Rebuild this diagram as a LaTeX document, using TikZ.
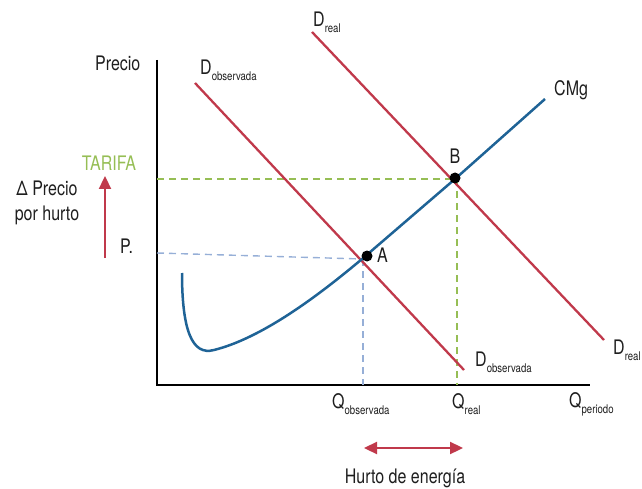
\documentclass[tikz,border=0pt]{standalone}
\usepackage{fontspec}
\setmainfont{TeX Gyre Heros}[FakeStretch=0.8]
\usetikzlibrary{arrows.meta}
\definecolor{dred}{RGB}{192,57,75}
\definecolor{cblue}{RGB}{31,99,150}
\definecolor{lblue}{RGB}{150,175,215}
\definecolor{cgreen}{RGB}{150,190,85}
\definecolor{txt}{RGB}{30,30,30}
\tikzset{
  lab/.style={inner sep=0pt, text=txt, font=\fontsize{20}{22}\selectfont},
  demand/.style={draw=dred, line width=2.3pt},
  cost/.style={draw=cblue, line width=2.5pt},
  gdash/.style={draw=cgreen, line width=1.4pt, dash pattern=on 7pt off 5pt},
  bdash/.style={draw=lblue, line width=1.4pt, dash pattern=on 7pt off 5pt},
  dot/.style={circle, fill=black, inner sep=0pt, minimum size=11pt},
}
\newcommand{\subl}[2]{#1\raisebox{-6pt}{\fontsize{12}{13}\selectfont #2}}
\begin{document}
\begin{tikzpicture}[x=1pt,y=-1pt]
\useasboundingbox (0,0) rectangle (642,489);
% axes
\coordinate (ytop) at (157,60);
\coordinate (orig) at (157,385);
\coordinate (xend) at (590,385);
\draw[line width=2.6pt] (ytop) -- (orig) -- (xend);
% points
\coordinate (A) at (362,259);
\coordinate (B) at (455,179);
% dashed guides
\coordinate (gl) at (157,179);
\coordinate (gb) at (457,385);
\coordinate (gt) at (457,179);
\draw[gdash] (gl) -- (B);
\draw[gdash] (gt) -- (gb);
\coordinate (bl) at (157,253);
\coordinate (bt) at (363,259);
\coordinate (bb) at (363,385);
\draw[bdash] (bl) -- (A);
\draw[bdash] (bt) -- (bb);
% demand curves
\coordinate (dr1) at (312,32);
\coordinate (dr2) at (604,340);
\draw[demand] (dr1) -- (dr2);
\coordinate (do1) at (195,83);
\coordinate (do2) at (464,370);
\draw[demand] (do1) -- (do2);
% cost curve
\coordinate (c0) at (182,273);
\coordinate (cm) at (214,350);
\coordinate (cend) at (545,99);
\draw[cost] (c0) .. controls (182,330) and (192,356) .. (cm)
  .. controls (262,338) and (318,296) .. (A) -- (B) -- (cend);
% dots
\node[dot] (Adot) at (367,256) {};
\node[dot] (Bdot) at (455,178) {};
\node[lab, anchor=west] (Alab) at (377,255) {A};
\node[lab] (Blab) at (455,156) {B};
% labels
\node[lab, anchor=west] (prec) at (95,63) {Precio};
\node[lab, anchor=west] (cmg) at (554,90) {CMg};
\node[lab, anchor=west] (drt) at (313,22) {\subl{D}{real}};
\node[lab, anchor=west] (drb) at (613,350) {\subl{D}{real}};
\node[lab, anchor=west] (dot) at (200,70) {\subl{D}{observada}};
\node[lab, anchor=west] (dob) at (475,362) {\subl{D}{observada}};
\node[lab, anchor=west] (qo) at (332,404) {\subl{Q}{observada}};
\node[lab, anchor=west] (qr) at (452,404) {\subl{Q}{real}};
\node[lab, anchor=west] (qp) at (569,404) {\subl{Q}{periodo}};
\node[lab, text=cgreen] (tar) at (109,163) {TARIFA};
\node[lab, align=center] (dp) at (47,203) {Δ Precio\\[3pt]por hurto};
\node[lab, anchor=west] (pp) at (120,246) {P.};
% arrows
\coordinate (ar0) at (105,258);
\coordinate (ar1) at (105,176);
\draw[dred, line width=2.3pt, -{Triangle[length=13pt,width=12pt]}] (ar0) -- (ar1);
\coordinate (h0) at (364,448);
\coordinate (h1) at (463,448);
\draw[dred, line width=2.3pt, {Triangle[length=13pt,width=12pt]}-{Triangle[length=13pt,width=12pt]}] (h0) -- (h1);
\node[lab] (hurto) at (405,478) {Hurto de energía};
\end{tikzpicture}
\end{document}
